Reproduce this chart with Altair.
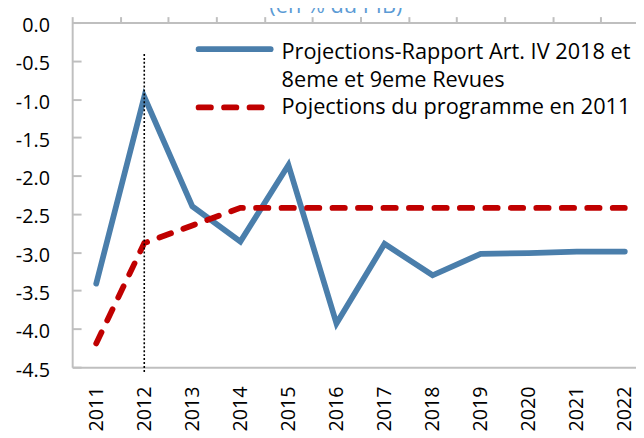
import altair as alt
import pandas as pd

# ---- data ----
years = ["2011", "2012", "2013", "2014", "2015", "2016",
         "2017", "2018", "2019", "2020", "2021", "2022"]
blue_values = [-3.41, -0.97, -2.40, -2.86, -1.86, -3.93,
               -2.89, -3.30, -3.02, -3.01, -2.99, -2.99]
red_values = [-4.19, -2.88, -2.65, -2.42, -2.42, -2.42,
              -2.42, -2.42, -2.42, -2.42, -2.42, -2.42]
y_tick_values = [0.0, -0.5, -1.0, -1.5, -2.0, -2.5, -3.0, -3.5, -4.0, -4.5]

blue_label_1 = "Projections-Rapport Art. IV 2018 et"
blue_label_2 = "8eme et 9eme Revues"
red_label = "Pojections du programme en 2011"
title_text = "(en % du PIB)"

marker_year = ["2012"]
marker_top = [-0.41]
marker_bottom = [-4.57]

# ---- styling ----
FONT = "Open Sans"
BLUE = "#4A7EAB"
RED = "#C00000"
GREY = "#BFBFBF"
W, H = 571, 349
LW = 5.8
DASH = [12.5, 13.3]

df_blue = pd.DataFrame({"year": years, "value": blue_values})
df_red = pd.DataFrame({"year": years, "value": red_values})
df_marker = pd.DataFrame({"year": marker_year, "top": marker_top, "bottom": marker_bottom})

x_scale = alt.Scale(type="point", padding=0.5, range=[0, 584])
y_scale = alt.Scale(domain=[-4.5, 0], nice=False, zero=False)

x_bottom = alt.Axis(orient="bottom", title=None, labelAngle=-90, ticks=False,
                    domainColor=GREY, domainWidth=2, labelFont=FONT,
                    labelFontSize=20, labelColor="black", labelPadding=19, grid=False)
y_left = alt.Axis(orient="left", title=None, values=y_tick_values, ticks=False,
                  domainColor=GREY, domainWidth=2, labelFont=FONT, labelFontSize=20,
                  labelColor="black", labelPadding=23, grid=False, labelOffset=3,
                  labelExpr="(datum.value < 0 ? '-' : '') + format(abs(datum.value), '.1f')")

blue_line = alt.Chart(df_blue).mark_line(color=BLUE, strokeWidth=LW, strokeCap="round",
                                         strokeJoin="miter").encode(
    x=alt.X("year:O", scale=x_scale, axis=x_bottom, sort=years),
    y=alt.Y("value:Q", scale=y_scale, axis=y_left),
)
red_line = alt.Chart(df_red).mark_line(color=RED, strokeWidth=LW, strokeCap="round",
                                       strokeDash=DASH).encode(
    x=alt.X("year:O", scale=x_scale, axis=x_bottom, sort=years),
    y=alt.Y("value:Q", scale=y_scale, axis=y_left),
)

x_top = alt.Axis(orient="top", title=None, labels=False, ticks=True, tickSize=6,
                 tickColor=GREY, tickWidth=2, tickOffset=-24.33, domainColor=GREY,
                 domainWidth=2, grid=False)
y_inner = alt.Axis(orient="right", offset=-W, title=None, labels=False, domain=False,
                   values=y_tick_values, tickSize=9, tickColor=GREY, tickWidth=2, grid=False)

marker = alt.Chart(df_marker).mark_rule(color="black", strokeWidth=1.6,
                                        strokeDash=[2, 2]).encode(
    x=alt.X("year:O", scale=x_scale, axis=x_top, sort=years),
    y=alt.Y("top:Q", scale=y_scale, axis=y_inner),
    y2="bottom:Q",
)

lines = alt.layer(blue_line, red_line)

# ---- custom legend ----
leg_blue = alt.Chart(pd.DataFrame({"k": [0]})).mark_rule(
    color=BLUE, strokeWidth=LW, strokeCap="round").encode(
    x=alt.value(128), x2=alt.value(201), y=alt.value(27))
leg_red = alt.Chart(pd.DataFrame({"k": [0]})).mark_rule(
    color=RED, strokeWidth=LW, strokeCap="round", strokeDash=DASH).encode(
    x=alt.value(128), x2=alt.value(192), y=alt.value(86))
leg_text = alt.Chart(pd.DataFrame({
    "t": [blue_label_1, blue_label_2, red_label],
    "yy": [37, 65, 93]})).mark_text(
    align="left", baseline="alphabetic", font=FONT, fontSize=22, color="black").encode(
    x=alt.value(212), y=alt.Y("yy:Q", scale=None), text="t:N")
title = alt.Chart(pd.DataFrame({"t": [title_text]})).mark_text(
    align="center", baseline="alphabetic", font=FONT, fontSize=22, color="#5B9BD5").encode(
    x=alt.value(267), y=alt.value(-10), text="t:N")

chart = alt.layer(lines, marker, leg_blue, leg_red, leg_text, title).resolve_axis(
    x="independent", y="independent"
).properties(
    width=W, height=H,
    autosize=alt.AutoSizeParams(type="none"),
    padding={"left": 65, "top": 12, "right": 0, "bottom": 69},
).configure_view(stroke=None)

chart.save("out.html", embed_options={"renderer": "svg", "actions": False})
